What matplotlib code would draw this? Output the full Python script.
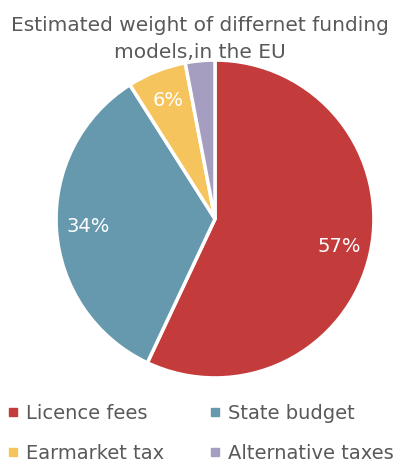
import matplotlib.pyplot as plt
from matplotlib.lines import Line2D

# funding models and their estimated share (%)
models = ["Licence fees", "State budget", "Earmarket tax", "Alternative taxes"]
shares = [57, 34, 6, 3]
colors = ["#C43B3B", "#6699AE", "#F6C45C", "#A59EC0"]

text_grey = "#595959"
plt.rcParams['font.family'] = ['DejaVu Sans']

fig = plt.figure(figsize=(4.0, 4.62), dpi=100)
ax = fig.add_axes([0.14, 0.182, 0.795, 0.688])

def pct_label(p):
    # small slices are left unlabelled
    return f"{p:.0f}%" if p >= 5 else ""

wedges, _, autotexts = ax.pie(
    shares, colors=colors, startangle=90, counterclock=False,
    autopct=pct_label, pctdistance=0.8,
    wedgeprops=dict(edgecolor="white", linewidth=2.5),
    textprops=dict(color="white", fontsize=14),
)
ax.set_xlim(-1.0, 1.0)
ax.set_ylim(-1.0, 1.0)
ax.set_aspect("equal")

fig.text(0.5, 0.916, "Estimated weight of differnet funding\nmodels,in the EU",
         ha="center", va="center", fontsize=14.5, color=text_grey, linespacing=1.5)

# two single-column legends so the entries read row by row
handles = [Line2D([], [], marker="s", linestyle="", markersize=6,
                  markerfacecolor=c, markeredgecolor=c) for c in colors]
common = dict(frameon=False, fontsize=14, labelcolor=text_grey,
              handlelength=0.5, handletextpad=0.45, labelspacing=1.1,
              borderpad=0.0, borderaxespad=0.0, loc="lower left")
fig.legend([handles[0], handles[2]], [models[0], models[2]],
           bbox_to_anchor=(0.02, -0.002), **common)
fig.legend([handles[1], handles[3]], [models[1], models[3]],
           bbox_to_anchor=(0.525, -0.002), **common)

fig.savefig("out.png", dpi=100)
